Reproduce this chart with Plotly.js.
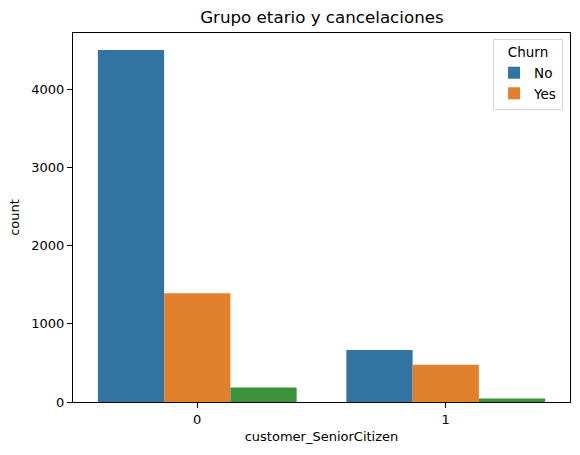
<!DOCTYPE html>
<html>
<head>
<meta charset="utf-8">
<script src="https://cdn.plot.ly/plotly-3.0.1.min.js"></script>
<style>
    html, body { margin: 0; padding: 0; background: #ffffff; }
    #chart { width: 580px; height: 455px; }
</style>
</head>
<body>
<div id="chart"></div>
<script>
const seniorCategories = ["0", "1"];
const churnNo = [4508, 666];
const churnYes = [1393, 476];
const churnMissing = [187, 45];

const HUE_COLORS = ["#3274a1", "#e1812c", "#3a923a"];

function barTrace(name, values, color, showlegend) {
    return {
        type: "bar",
        name: name,
        x: seniorCategories,
        y: values,
        marker: { color: color, line: { width: 0 } },
        showlegend: showlegend,
        hoverinfo: "x+y+name",
    };
}

const traces = [
    barTrace("No", churnNo, HUE_COLORS[0], true),
    barTrace("Yes", churnYes, HUE_COLORS[1], true),
    barTrace("", churnMissing, HUE_COLORS[2], false),
];

Plotly.newPlot("chart", traces, {
    width: 580,
    height: 455,
    margin: { l: 73, r: 10, t: 33, b: 53 },
    paper_bgcolor: "#ffffff",
    plot_bgcolor: "#ffffff",
    font: { family: "\"DejaVu Sans\", sans-serif", color: "#000000", size: 13 },
    title: {
        text: "Grupo etario y cancelaciones",
        font: { size: 16.7 },
        x: 0.555,
        xanchor: "center",
        y: 0.962,
        yanchor: "middle",
    },
    barmode: "group",
    bargap: 0.2,
    bargroupgap: 0,
    xaxis: {
        type: "category",
        range: [-0.5, 1.5],
        title: { text: "customer_SeniorCitizen", font: { size: 13 }, standoff: 6 },
        showline: true,
        mirror: true,
        linecolor: "#000000",
        linewidth: 1,
        ticks: "outside",
        ticklen: 5,
        tickcolor: "#000000",
        showgrid: false,
        zeroline: false,
    },
    yaxis: {
        range: [0, 4725],
        tickvals: [0, 1000, 2000, 3000, 4000],
        title: { text: "count", font: { size: 13 }, standoff: 8 },
        showline: true,
        mirror: true,
        linecolor: "#000000",
        linewidth: 1,
        ticks: "outside",
        ticklen: 5,
        tickcolor: "#000000",
        showgrid: false,
        zeroline: false,
    },
    legend: {
        title: { text: "Churn", side: "top center", font: { size: 13.5 } },
        x: 0.986,
        xanchor: "right",
        y: 0.984,
        yanchor: "top",
        bgcolor: "#ffffff",
        bordercolor: "#d6d6d6",
        borderwidth: 1,
        font: { size: 13.5 },
        traceorder: "normal",
    },
}, {
    displayModeBar: false,
    staticPlot: true,
});
</script>
</body>
</html>
